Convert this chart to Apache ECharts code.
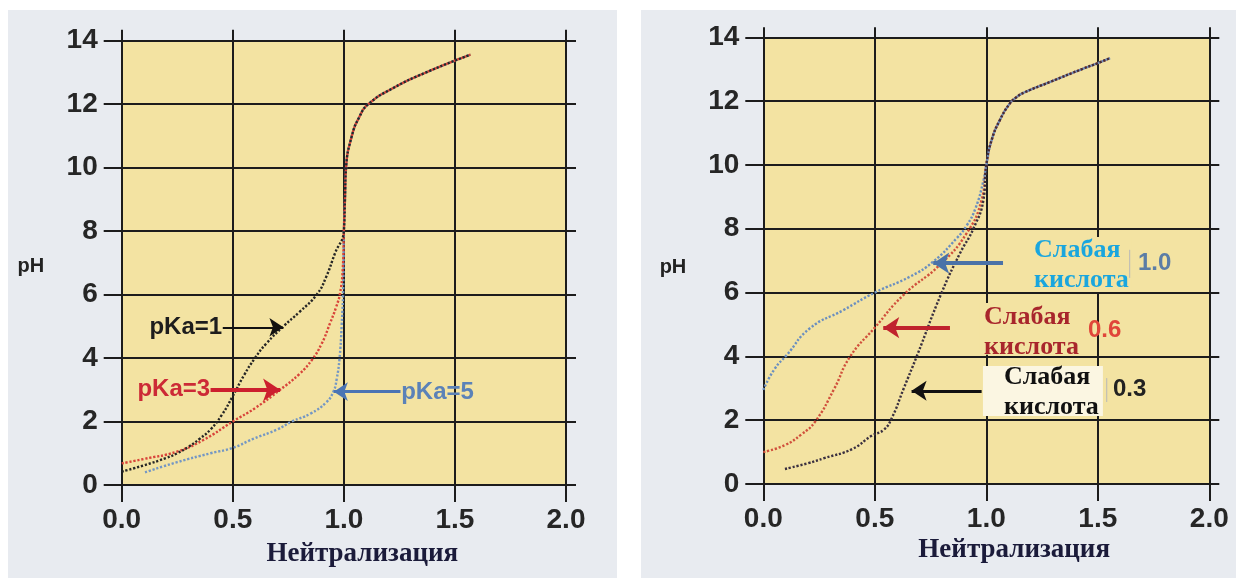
<!DOCTYPE html>
<html><head><meta charset="utf-8">
<script src="https://cdn.jsdelivr.net/npm/echarts@6/dist/echarts.min.js"></script>
<style>html,body{margin:0;padding:0;background:#fff}#c{width:1236px;height:581px}</style>
</head><body><div id="c"></div>
<script>
// ---------- data ----------
const xTickLabels = ['0.0','0.5','1.0','1.5','2.0'];
const yTickLabels = ['0','2','4','6','8','10','12','14'];

// Left panel: upper (shared) branch after equivalence
const leftUpperX  = [1.005, 1.01, 1.036, 1.07, 1.11, 1.22, 1.37, 1.57];
const leftUpperPh = [9.0, 10.0, 11.0, 11.6, 12.0, 12.5, 13.0, 13.56];
// pKa=1 (black)
const pka1X  = [0, 0.1, 0.2, 0.25, 0.3, 0.35, 0.4, 0.45, 0.5, 0.55, 0.6, 0.65, 0.728, 0.8, 0.878, 0.92, 0.96, 1.0];
const pka1Ph = [0.42, 0.62, 0.85, 1.0, 1.2, 1.45, 1.75, 2.2, 2.8, 3.45, 4.0, 4.45, 5.0, 5.45, 6.0, 6.55, 7.3, 8.0];
// pKa=3 (red)
const pka3X  = [0, 0.1, 0.248, 0.368, 0.5, 0.6, 0.713, 0.8, 0.856, 0.9, 0.938, 0.965, 0.983, 0.995, 1.0];
const pka3Ph = [0.68, 0.82, 1.05, 1.42, 2.0, 2.42, 3.0, 3.5, 3.94, 4.45, 5.1, 5.6, 6.05, 6.8, 8.0];
// pKa=5 (blue)
const pka5X  = [0.105, 0.25, 0.4, 0.5, 0.594, 0.7, 0.766, 0.85, 0.92, 0.953, 0.968, 0.98, 0.99, 0.998, 1.0];
const pka5Ph = [0.4, 0.72, 1.0, 1.17, 1.46, 1.75, 2.0, 2.25, 2.6, 2.94, 3.35, 3.95, 5.0, 6.47, 8.0];

// Right panel: upper (shared) branch
const rightUpperX  = [1.0, 1.024, 1.061, 1.106, 1.135, 1.17, 1.286, 1.435, 1.5, 1.555];
const rightUpperPh = [10.0, 10.78, 11.41, 11.93, 12.12, 12.27, 12.6, 13.02, 13.19, 13.35];
// weak acid 1.0 (blue)
const weak10X  = [0, 0.05, 0.105, 0.209, 0.359, 0.5, 0.658, 0.762, 0.867, 0.912, 0.952, 0.987];
const weak10Ph = [2.95, 3.6, 4.04, 4.88, 5.45, 6.0, 6.5, 6.97, 7.7, 8.1, 8.65, 9.5];
// weak acid 0.6 (red)
const weak06X  = [0, 0.097, 0.17, 0.232, 0.317, 0.389, 0.5, 0.628, 0.792, 0.912, 0.979];
const weak06Ph = [1.0, 1.22, 1.55, 1.95, 2.97, 3.99, 4.9, 5.92, 6.87, 7.86, 8.9];
// weak acid 0.3 (black)
const weak03X  = [0.097, 0.2, 0.273, 0.4, 0.485, 0.54, 0.575, 0.63, 0.688, 0.8, 0.882, 0.942, 0.987];
const weak03Ph = [0.47, 0.65, 0.81, 1.1, 1.51, 1.7, 2.05, 3.0, 4.0, 6.0, 7.23, 8.0, 8.9];

// ---------- styling / annotation config ----------
const LINE = '#1c1c1c';
const YELLOW = '#f3e3a2';
const PANEL = '#e8ebf0';

function zip(xs, ys) { return xs.map((x, i) => [x, ys[i]]); }

const chart = echarts.init(document.getElementById('c'), null, {renderer: 'canvas'});

function xAxis(g, pos, tickLen, labels) {
  return {
    type: 'value', gridIndex: g, position: pos, min: 0, max: 2, interval: 0.5,
    axisLine: {show: true, onZero: false, lineStyle: {color: LINE, width: 2}},
    axisTick: {show: true, inside: false, length: tickLen, lineStyle: {color: LINE, width: 2}},
    splitLine: {show: labels, lineStyle: {color: LINE, width: 2}},
    axisLabel: {show: labels, margin: 21, color: '#262626', fontSize: 28, fontWeight: 'bold',
      fontFamily: 'Liberation Sans, Arial, sans-serif',
      formatter: v => xTickLabels[Math.round(v / 0.5)]}
  };
}
function yAxis(g, pos, tickLen, labels) {
  return {
    type: 'value', gridIndex: g, position: pos, min: 0, max: 14, interval: 2,
    axisLine: {show: true, onZero: false, lineStyle: {color: LINE, width: 2}},
    axisTick: {show: true, inside: false, length: tickLen, lineStyle: {color: LINE, width: 2}},
    splitLine: {show: labels, lineStyle: {color: LINE, width: 2}},
    axisLabel: {show: labels, margin: 24, color: '#262626', fontSize: 28, fontWeight: 'bold',
      fontFamily: 'Liberation Sans, Arial, sans-serif',
      formatter: v => yTickLabels[Math.round(v / 2)]}
  };
}

function curve(xi, yi, data, color, arrow) {
  const s = {
    type: 'line', xAxisIndex: xi, yAxisIndex: yi, data: data,
    smooth: 0.5, symbol: 'none', silent: true, z: 3,
    lineStyle: {color: color, width: 2.4, type: [2.2, 1.8]}
  };
  if (arrow) {
    s.markLine = {
      silent: true, symbol: ['none', 'arrow'], symbolSize: arrow.head,
      label: {show: false}, emphasis: {disabled: true},
      lineStyle: {color: arrow.color, width: arrow.width, type: 'solid'},
      data: [[{coord: [arrow.from, arrow.y]}, {coord: [arrow.to, arrow.y]}]]
    };
  }
  return s;
}

chart.setOption({
  animation: false,
  grid: [
    {left: 121.7, top: 40.7, width: 444.3, height: 444.3, show: true, backgroundColor: YELLOW, borderWidth: 0},
    {left: 763.3, top: 37.3, width: 446, height: 446.7, show: true, backgroundColor: YELLOW, borderWidth: 0}
  ],
  xAxis: [xAxis(0, 'bottom', 17, true), xAxis(0, 'top', 11, false),
          xAxis(1, 'bottom', 17, true), xAxis(1, 'top', 10, false)],
  yAxis: [yAxis(0, 'left', 18, true), yAxis(0, 'right', 10, false),
          yAxis(1, 'left', 18, true), yAxis(1, 'right', 10, false)],
  series: [
    curve(0, 0, zip(pka5X.concat(leftUpperX), pka5Ph.concat(leftUpperPh)), '#7497c4',
      {from: 1.255, to: 0.955, y: 2.94, color: '#4a74b4', width: 3, head: 14}),
    curve(0, 0, zip(pka3X.concat(leftUpperX), pka3Ph.concat(leftUpperPh)), '#d8443a',
      {from: 0.40, to: 0.713, y: 3.0, color: '#cc1f2e', width: 4, head: 17}),
    curve(0, 0, zip(pka1X.concat(leftUpperX), pka1Ph.concat(leftUpperPh)), '#262626',
      {from: 0.455, to: 0.728, y: 4.97, color: '#111111', width: 2, head: 14}),
    curve(2, 2, zip(weak10X.concat(rightUpperX), weak10Ph.concat(rightUpperPh)), '#6b8fbf',
      {from: 1.075, to: 0.762, y: 6.92, color: '#4a72a8', width: 4, head: 16}),
    curve(2, 2, zip(weak06X.concat(rightUpperX), weak06Ph.concat(rightUpperPh)), '#d0503c',
      {from: 0.837, to: 0.538, y: 4.9, color: '#c0232d', width: 4, head: 16}),
    curve(2, 2, zip(weak03X.concat(rightUpperX), weak03Ph.concat(rightUpperPh)), '#3a3040',
      {from: 0.979, to: 0.665, y: 2.92, color: '#111111', width: 3, head: 15})
  ]
});

// ---------- annotations (positions in data coordinates) ----------
const SANS = 'Liberation Sans, Arial, sans-serif';
const SERIF = 'Liberation Serif, Times New Roman, serif';
const leftTexts = [
  {t: 'pKa=1', x: 0.452, y: 4.97, align: 'right', color: '#1d1d1d', font: 'bold 24px ' + SANS},
  {t: 'pKa=3', x: 0.398, y: 3.0, align: 'right', color: '#cc2a36', font: 'bold 24px ' + SANS},
  {t: 'pKa=5', x: 1.258, y: 2.92, align: 'left', color: '#5b82b8', font: 'bold 24px ' + SANS},
  {t: 'Нейтрализация', x: 1.083, y: -2.18, align: 'center', color: '#1b1b3a', font: 'bold 27px ' + SERIF},
  {t: 'pH', x: -0.409, y: 6.9, align: 'center', color: '#222222', font: 'bold 20px ' + SANS}
];
const rightTexts = [
  {t: 'Слабая\nкислота', x: 1.214, y: 6.87, align: 'left', color: '#1aa6de', font: 'bold 26px ' + SERIF},
  {t: '1.0', x: 1.680, y: 6.93, align: 'left', color: '#5b7da6', font: 'bold 24px ' + SANS},
  {t: 'Слабая\nкислота', x: 0.99, y: 4.77, align: 'left', color: '#a8262c', font: 'bold 26px ' + SERIF},
  {t: '0.6', x: 1.456, y: 4.83, align: 'left', color: '#e0463a', font: 'bold 24px ' + SANS},
  {t: 'Слабая\nкислота', x: 1.079, y: 2.89, align: 'left', color: '#111111', font: 'bold 26px ' + SERIF},
  {t: '0.3', x: 1.568, y: 2.95, align: 'left', color: '#222222', font: 'bold 24px ' + SANS},
  {t: 'Нейтрализация', x: 1.125, y: -2.07, align: 'center', color: '#1b1b3a', font: 'bold 27px ' + SERIF},
  {t: 'pH', x: -0.405, y: 6.8, align: 'center', color: '#222222', font: 'bold 20px ' + SANS}
];
const rightBoxes = [
  {x1: 1.187, x2: 1.653, y1: 7.74, y2: 6.02, fill: YELLOW},
  {x1: 0.971, x2: 1.42, y1: 5.67, y2: 4.05, fill: YELLOW},
  {x1: 0.985, x2: 1.523, y1: 3.70, y2: 2.13, fill: '#fbf6e2'}
];
const rightSeps = [
  {x: 1.643, y1: 7.34, y2: 6.46},
  {x: 1.54, y1: 3.32, y2: 2.57}
];

const graphics = [
  {type: 'rect', z: -100, silent: true, shape: {x: 8, y: 10, width: 609, height: 568}, style: {fill: PANEL}},
  {type: 'rect', z: -100, silent: true, shape: {x: 641, y: 10, width: 595, height: 568}, style: {fill: PANEL}}
];
function px(g, x, y) { return chart.convertToPixel({gridIndex: g}, [x, y]); }
rightBoxes.forEach(b => {
  const a = px(1, b.x1, b.y1), c = px(1, b.x2, b.y2);
  graphics.push({type: 'rect', z: 10, silent: true,
    shape: {x: a[0], y: a[1], width: c[0] - a[0], height: c[1] - a[1]}, style: {fill: b.fill}});
});
rightSeps.forEach(s => {
  const a = px(1, s.x, s.y1), c = px(1, s.x, s.y2);
  graphics.push({type: 'line', z: 11, silent: true,
    shape: {x1: a[0], y1: a[1], x2: c[0], y2: c[1]}, style: {stroke: '#b8b8b8', lineWidth: 1}});
});
function addTexts(g, list) {
  list.forEach(o => {
    const p = px(g, o.x, o.y);
    graphics.push({type: 'text', z: 12, silent: true, x: p[0], y: p[1],
      style: {text: o.t, font: o.font, fill: o.color, align: o.align, verticalAlign: 'middle', lineHeight: 30}});
  });
}
addTexts(0, leftTexts);
addTexts(1, rightTexts);
chart.setOption({graphic: graphics});
</script></body></html>
